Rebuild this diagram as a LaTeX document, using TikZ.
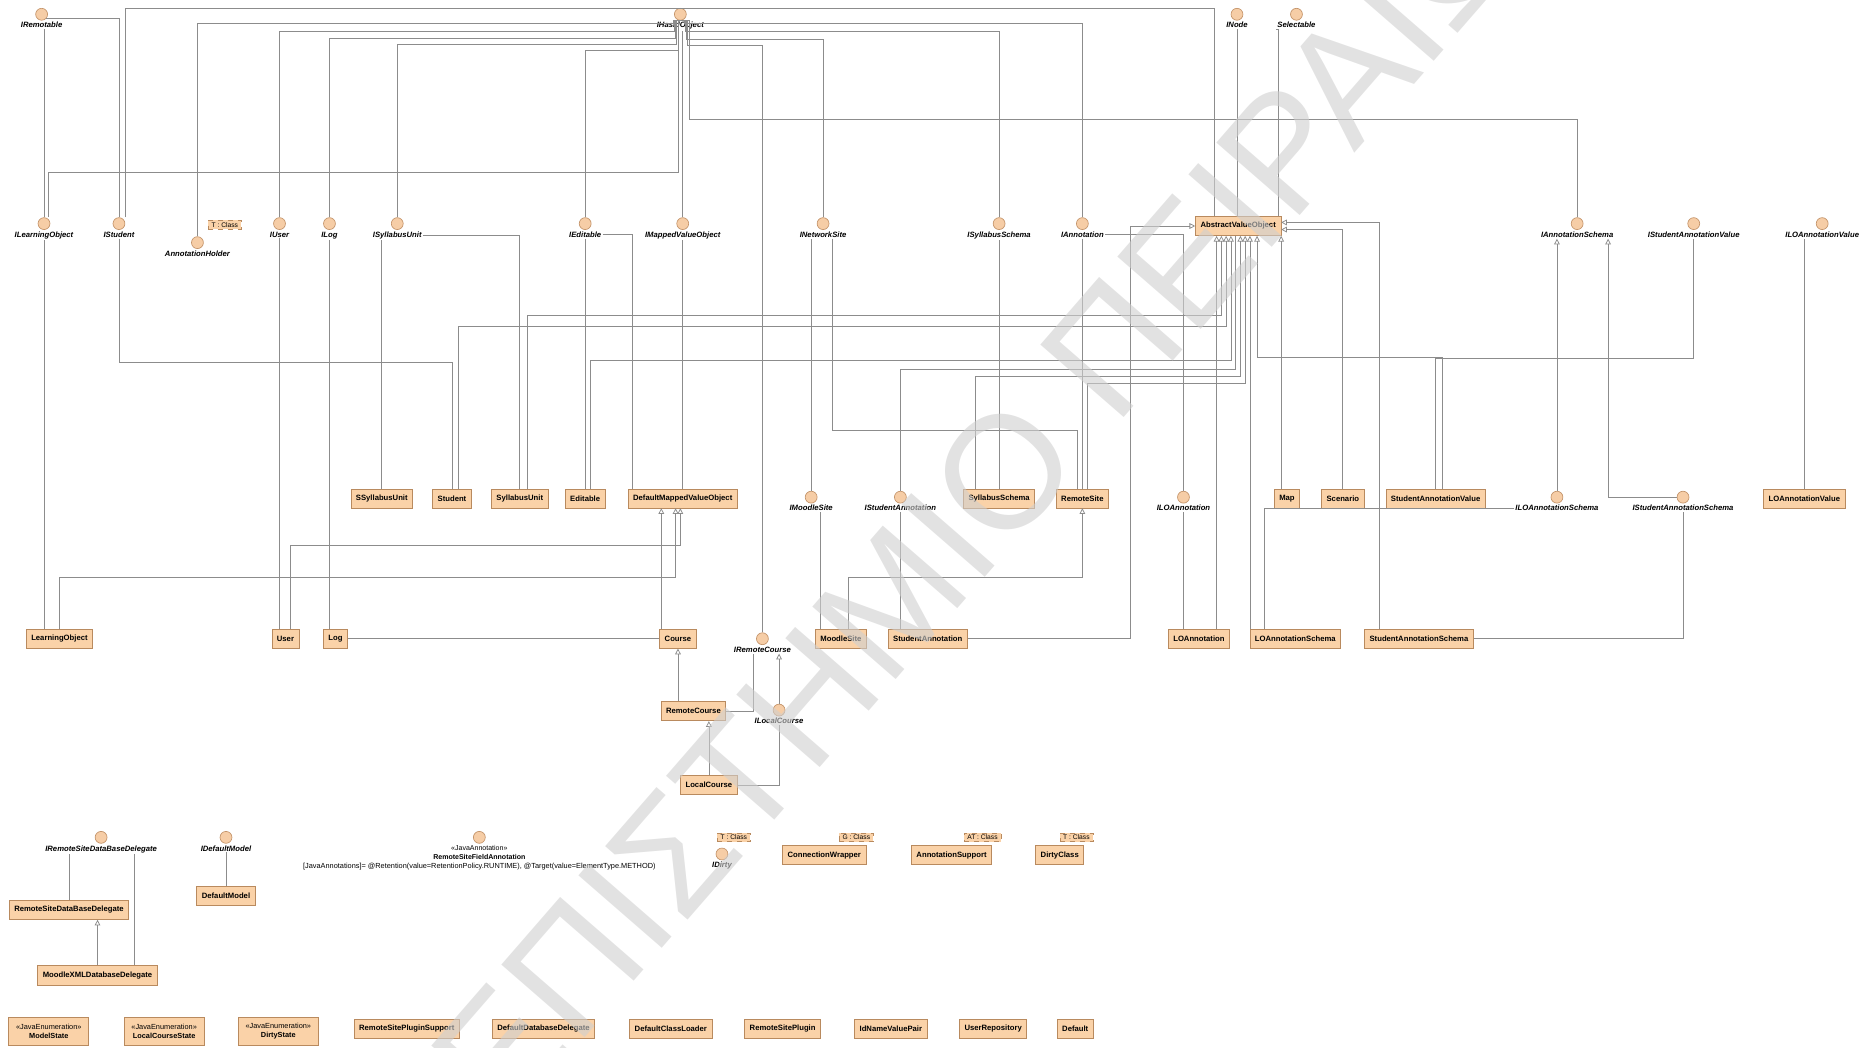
\documentclass[tikz,border=0pt]{standalone}
\usepackage{fontspec}
\setmainfont{Liberation Sans}
\usetikzlibrary{arrows.meta,positioning,calc}
\definecolor{clsfill}{HTML}{FAD2A8}
\definecolor{clsdraw}{HTML}{B98A5E}
\definecolor{ifcfill}{HTML}{F6CDA6}
\definecolor{ifcdraw}{HTML}{C4946A}
\definecolor{wire}{HTML}{8C8C8C}
\definecolor{wmark}{HTML}{CFCFCF}

\begin{document}
\begin{tikzpicture}[
  x=0.025cm, y=-0.025cm,
  cls/.style={draw=clsdraw, fill=clsfill, font=\fontsize{4.6}{5.4}\selectfont\bfseries,
              minimum height=0.4cm, inner xsep=3pt, inner ysep=1pt, align=center},
  enumbox/.style={draw=clsdraw, fill=clsfill, font=\fontsize{4.4}{5.6}\selectfont,
              minimum height=0.6cm, minimum width=1.68cm, inner sep=1pt, align=center},
  ifc/.style={circle, draw=ifcdraw, fill=ifcfill, minimum size=0.25cm, inner sep=0pt},
  ifl/.style={font=\fontsize{4.6}{5.4}\selectfont\bfseries\itshape, inner sep=0.6pt},
  tmpl/.style={draw=clsdraw, dashed, fill=clsfill, font=\fontsize{4}{4.8}\selectfont,
              inner xsep=2pt, inner ysep=1.2pt},
  conn/.style={draw=wire, line width=0.45pt},
  gen/.style={conn, -{Triangle[open, length=1.2mm, width=1.2mm]}}
]
\useasboundingbox (0,0) rectangle (1568,881);

% top interfaces
\node[ifc] (iremotable) at (35,12) {};
\node[ifl, below=0.3pt of iremotable] (iremotable-l) {IRemotable};
\node[ifc] (ihasid) at (572,12) {};
\node[ifl, below=0.3pt of ihasid] (ihasid-l) {IHasIdObject};
\node[ifc] (inode) at (1040,12) {};
\node[ifl, below=0.3pt of inode] (inode-l) {INode};
\node[ifc] (iselect) at (1090,12) {};
\node[ifl, below=0.3pt of iselect] (iselect-l) {Selectable};

% second row
\node[ifc] (ilo) at (37,188) {};
\node[ifl, below=0.3pt of ilo] (ilo-l) {ILearningObject};
\node[ifc] (istudent) at (100,188) {};
\node[ifl, below=0.3pt of istudent] (istudent-l) {IStudent};
\node[ifc] (iannholder) at (166,204) {};
\node[ifl, below=0.3pt of iannholder] (iannholder-l) {AnnotationHolder};
\node[ifc] (iuser) at (235,188) {};
\node[ifl, below=0.3pt of iuser] (iuser-l) {IUser};
\node[ifc] (ilog) at (277,188) {};
\node[ifl, below=0.3pt of ilog] (ilog-l) {ILog};
\node[ifc] (isylunit) at (334,188) {};
\node[ifl, below=0.3pt of isylunit] (isylunit-l) {ISyllabusUnit};
\node[ifc] (iedit) at (492,188) {};
\node[ifl, below=0.3pt of iedit] (iedit-l) {IEditable};
\node[ifc] (imapped) at (574,188) {};
\node[ifl, below=0.3pt of imapped] (imapped-l) {IMappedValueObject};
\node[ifc] (inetsite) at (692,188) {};
\node[ifl, below=0.3pt of inetsite] (inetsite-l) {INetworkSite};
\node[ifc] (isylschema) at (840,188) {};
\node[ifl, below=0.3pt of isylschema] (isylschema-l) {ISyllabusSchema};
\node[ifc] (iann) at (910,188) {};
\node[ifl, below=0.3pt of iann] (iann-l) {IAnnotation};
\node[cls] (avo) at (1041,190) {AbstractValueObject};
\node[ifc] (iannschema) at (1326,188) {};
\node[ifl, below=0.3pt of iannschema] (iannschema-l) {IAnnotationSchema};
\node[ifc] (istudannval) at (1424,188) {};
\node[ifl, below=0.3pt of istudannval] (istudannval-l) {IStudentAnnotationValue};
\node[ifc] (iloannval) at (1532,188) {};
\node[ifl, below=0.3pt of iloannval] (iloannval-l) {ILOAnnotationValue};

% third row
\node[cls] (ssylunit) at (321,419) {SSyllabusUnit};
\node[cls] (student) at (380,419) {Student};
\node[cls] (sylunit) at (437,419) {SyllabusUnit};
\node[cls] (editable) at (492,419) {Editable};
\node[cls] (dmvo) at (574,419) {DefaultMappedValueObject};
\node[ifc] (imoodle) at (682,418) {};
\node[ifl, below=0.3pt of imoodle] (imoodle-l) {IMoodleSite};
\node[ifc] (istudann) at (757,418) {};
\node[ifl, below=0.3pt of istudann] (istudann-l) {IStudentAnnotation};
\node[cls] (sylschema) at (840,419) {SyllabusSchema};
\node[cls] (remotesite) at (910,419) {RemoteSite};
\node[ifc] (iloann) at (995,418) {};
\node[ifl, below=0.3pt of iloann] (iloann-l) {ILOAnnotation};
\node[cls] (map) at (1082,419) {Map};
\node[cls] (scenario) at (1129,419) {Scenario};
\node[cls] (studannval) at (1207,419) {StudentAnnotationValue};
\node[ifc] (iloannschema) at (1309,418) {};
\node[ifl, below=0.3pt of iloannschema] (iloannschema-l) {ILOAnnotationSchema};
\node[ifc] (istudannschema) at (1415,418) {};
\node[ifl, below=0.3pt of istudannschema] (istudannschema-l) {IStudentAnnotationSchema};
\node[cls] (loannval) at (1517,419) {LOAnnotationValue};

% fourth row
\node[cls] (lo) at (50,537) {LearningObject};
\node[cls] (user) at (240,537) {User};
\node[cls] (log) at (282,537) {Log};
\node[cls] (course) at (570,537) {Course};
\node[ifc] (iremotecourse) at (641,537) {};
\node[ifl, below=0.3pt of iremotecourse] (iremotecourse-l) {IRemoteCourse};
\node[cls] (moodlesite) at (707,537) {MoodleSite};
\node[cls] (studann) at (780,537) {StudentAnnotation};
\node[cls] (loann) at (1008,537) {LOAnnotation};
\node[cls] (loannschema) at (1089,537) {LOAnnotationSchema};
\node[cls] (studannschema) at (1193,537) {StudentAnnotationSchema};

\node[cls] (remotecourse) at (583,598) {RemoteCourse};
\node[ifc] (ilocalcourse) at (655,597) {};
\node[ifl, below=0.3pt of ilocalcourse] (ilocalcourse-l) {ILocalCourse};
\node[cls] (localcourse) at (596,660) {LocalCourse};

% lower left block
\node[ifc] (irsdbd) at (85,704) {};
\node[ifl, below=0.3pt of irsdbd] (irsdbd-l) {IRemoteSiteDataBaseDelegate};
\node[ifc] (idefmodel) at (190,704) {};
\node[ifl, below=0.3pt of idefmodel] (idefmodel-l) {IDefaultModel};
\node[ifc] (rsfa) at (403,704) {};
\node[font=\fontsize{4.2}{5.4}\selectfont, inner sep=0.5pt, align=center, below=0.3pt of rsfa] (rsfa-l)
  {«JavaAnnotation»\\\textbf{RemoteSiteFieldAnnotation}};
\node[font=\fontsize{4.4}{5}\selectfont, inner sep=0.5pt, below=0.5pt of rsfa-l] (rsfa-a)
  {[JavaAnnotations]= @Retention(value=RetentionPolicy.RUNTIME), @Target(value=ElementType.METHOD)};
\node[ifc] (idirty) at (607,718) {};
\node[ifl, below=0.3pt of idirty] (idirty-l) {IDirty};
\node[cls] (connwrap) at (693,719) {ConnectionWrapper};
\node[cls] (annsupport) at (800,719) {AnnotationSupport};
\node[cls] (dirtyclass) at (891,719) {DirtyClass};

\node[cls] (rsdbd) at (58,765) {RemoteSiteDataBaseDelegate};
\node[cls] (defmodel) at (190,753) {DefaultModel};
\node[cls] (moodlexml) at (82,820) {MoodleXMLDatabaseDelegate};

% bottom row
\node[enumbox] (modelstate) at (41,867) {«JavaEnumeration»\\\textbf{ModelState}};
\node[enumbox] (lcstate) at (138,867) {«JavaEnumeration»\\\textbf{LocalCourseState}};
\node[enumbox] (dirtystate) at (234,867) {«JavaEnumeration»\\\textbf{DirtyState}};
\node[cls] (rspsupport) at (342,865) {RemoteSitePluginSupport};
\node[cls] (defdbdel) at (457,865) {DefaultDatabaseDelegate};
\node[cls] (defclassloader) at (564,865) {DefaultClassLoader};
\node[cls] (rsplugin) at (658,865) {RemoteSitePlugin};
\node[cls] (idnamevalue) at (749,865) {IdNameValuePair};
\node[cls] (userrepo) at (835,865) {UserRepository};
\node[cls] (default) at (904,865) {Default};

% template parameters
\node[tmpl] (annholder-t) at (189,189) {T : Class};
\node[tmpl] (idirty-t) at (617,704) {T : Class};
\node[tmpl] (connwrap-t) at (720,704) {G : Class};
\node[tmpl] (annsupport-t) at (826,704) {AT : Class};
\node[tmpl] (dirtyclass-t) at (905,704) {T : Class};

% anchor helpers
\coordinate (dmvo-s1) at ($(dmvo.south)+(-18,0)$);
\coordinate (dmvo-s2) at ($(dmvo.south)+(-6,0)$);
\coordinate (dmvo-s3) at ($(dmvo.south)+(-2,0)$);
\coordinate (user-up) at ($(user.north)+(4,0)$);
\coordinate (avo-p1) at ($(avo.south west)+(18,0)$);
\coordinate (avo-p2) at ($(avo.south west)+(22,0)$);
\coordinate (avo-p3) at ($(avo.south west)+(26,0)$);
\coordinate (avo-p4) at ($(avo.south west)+(30,0)$);
\coordinate (avo-p5) at ($(avo.south west)+(34,0)$);
\coordinate (avo-p6) at ($(avo.south west)+(38,0)$);
\coordinate (avo-p7) at ($(avo.south west)+(42,0)$);
\coordinate (avo-p8) at ($(avo.south west)+(46,0)$);
\coordinate (avo-p9) at ($(avo.south west)+(52,0)$);
\coordinate (avo-top) at ($(avo.north west)+(16,0)$);
\coordinate (avo-sel) at ($(avo.north east)+(-2,0)$);
\coordinate (imoodle-d) at ($(imoodle-l.south)+(8,0)$);
\coordinate (mx-up) at ($(moodlexml.north)+(31,0)$);

% links to the top interfaces
\draw[conn] (istudent.north) |- (iremotable.south east);
\draw[conn] (ilo.north) -- (ilo.north |- iremotable-l.south);
\draw[conn] ($(istudent.north)+(5,0)$) |- (ihasid.north);
\draw[conn] (avo-top) |- (ihasid.north);
\draw[conn] ($(ilo.north)+(4,0)$) |- (570,145) |- (ihasid.south);
\draw[conn] (iannholder.north) |- (566,20) |- (ihasid.south);
\draw[conn] (iuser.north) |- (567,26) |- (ihasid.south);
\draw[conn] (ilog.north) |- (568,32) |- (ihasid.south);
\draw[conn] (isylunit.north) |- (569,37) |- (ihasid.south);
\draw[conn] (iedit.north) |- (570,42) |- (ihasid.south);
\draw[conn] (imapped.north) -- (imapped.north |- ihasid-l.south);
\draw[conn] (iann.north) |- (575,20) |- (ihasid.south);
\draw[conn] (isylschema.north) |- (576,26) |- (ihasid.south);
\draw[conn] (inetsite.north) |- (577,33) |- (ihasid.south);
\draw[conn] (iremotecourse.north) |- (578,38) |- (ihasid.south);
\draw[conn] (iannschema.north) |- (580,100) |- (ihasid.south);
\draw[conn] (avo.north -| inode) -- (inode-l.south);
\draw[conn] (avo-sel) |- (iselect-l.south west);

% left part
\draw[conn] (ilo-l.south) -- (ilo-l.south |- lo.north);
\draw[gen] (lo.north) |- ($(dmvo-s2)+(0,58)$) -- (dmvo-s2);
\draw[conn] (istudent-l.south) |- ($(student.north)+(0,-106)$) -- (student.north);
\draw[conn] (iuser-l.south) -- (iuser-l.south |- user.north);
\draw[gen] (user-up) |- ($(dmvo-s3)+(0,31)$) -- (dmvo-s3);
\draw[conn] (ilog-l.south) -- (ilog-l.south |- log.north);
\draw[conn] (log.east) -- (course.west);
\draw[gen] (course.north -| dmvo-s1) -- (dmvo-s1);
\draw[conn] (ssylunit.north) -- (ssylunit.north |- isylunit-l.south);
\draw[conn] (isylunit-l.east) -| (sylunit.north);
\draw[conn] (iedit-l.south) -- (iedit-l.south |- editable.north);
\draw[conn] (iedit-l.east) -| ($(dmvo.north west)+(4,0)$);
\draw[conn] (imapped-l.south) -- (imapped-l.south |- dmvo.north);

% middle part
\draw[conn] (imoodle.north) -- (imoodle.north |- inetsite-l.south);
\draw[conn] ($(inetsite-l.south)+(8,0)$) |- ($(remotesite.north)+(-4,-49)$) -- ($(remotesite.north)+(-4,0)$);
\draw[conn] (isylschema-l.south) -- (isylschema-l.south |- sylschema.north);
\draw[conn] (iann-l.south) -- (iann-l.south |- remotesite.north);
\draw[conn] (iann-l.east) -| (iloann.north);
\draw[conn] (imoodle-d) -- (imoodle-d |- moodlesite.north);
\draw[gen] ($(moodlesite.north)+(6,0)$) |- ($(remotesite.south)+(0,58)$) -- (remotesite.south);
\draw[conn] (istudann-l.south) -- (istudann-l.south |- studann.north);
\draw[gen] (studann.east) -| (950,190) -- (avo.west);
\draw[gen] (remotecourse.north -| course.south) -- (course.south);
\draw[conn] (remotecourse.east) -| ($(iremotecourse-l.south)+(-8,0)$);
\draw[gen] (localcourse.north) -- (localcourse.north |- remotecourse.south);
\draw[conn] (localcourse.east) -| (ilocalcourse-l.south);
\draw[gen] (ilocalcourse.north) -- (ilocalcourse.north |- iremotecourse-l.south);

% abstract value object fan-out
\draw[gen] (avo-p1 |- loann.north) -- (avo-p1);
\draw[gen] ($(sylunit.north)+(6,0)$) |- ($(avo-p2)+(0,67)$) -- (avo-p2);
\draw[gen] ($(student.north)+(5,0)$) |- ($(avo-p3)+(0,76)$) -- (avo-p3);
\draw[gen] ($(editable.north)+(4,0)$) |- ($(avo-p4)+(0,105)$) -- (avo-p4);
\draw[conn] (istudann.north) |- ($(avo-p5)+(0,112)$) -- (avo-p5);
\draw[gen] ($(sylschema.north)+(-20,0)$) |- ($(avo-p6)+(0,118)$) -- (avo-p6);
\draw[gen] ($(remotesite.north)+(4,0)$) |- ($(avo-p7)+(0,124)$) -- (avo-p7);
\draw[gen] (avo-p8 |- loannschema.north) -- (avo-p8);
\draw[gen] ($(studannval.north)+(6,0)$) |- ($(avo-p9)+(0,102)$) -- (avo-p9);
\draw[gen] (map.north -| avo.south east) -- (avo.south east);
\draw[gen] (scenario.north) |- ($(avo.east)+(0,3)$);
\draw[gen] ($(studannschema.north)+(-33,0)$) |- ($(avo.east)+(0,-3)$);

% right part
\draw[conn] (iloann-l.south) -- (iloann-l.south |- loann.north);
\draw[conn] (iloannschema-l.west) -| ($(loannschema.north)+(-26,0)$);
\draw[conn] (studannschema.east) -| (istudannschema-l.south);
\draw[gen] (iloannschema.north) -- (iloannschema.north |- iannschema-l.south);
\draw[gen] (istudannschema.west) -| ($(iannschema-l.south)+(26,0)$);
\draw[conn] (istudannval-l.south) |- ($(studannval.north)+(0,-109)$) -- (studannval.north);
\draw[conn] (loannval.north) -- (loannval.north |- iloannval-l.south);

% lower left
\draw[conn] (rsdbd.north) -- (rsdbd.north |- irsdbd-l.south);
\draw[conn] (mx-up) -- (mx-up |- irsdbd-l.south);
\draw[gen] (moodlexml.north) -- (moodlexml.north |- rsdbd.south);
\draw[conn] (idefmodel-l.south) -- (defmodel.north);

% watermark over the diagram
\begin{scope}
\clip (0,0) rectangle (1568,881);
\node[rotate=49, text=wmark, text opacity=0.6, font=\fontsize{96}{96}\selectfont] (watermark)
  at (756,498) {ΠΑΝΕΠΙΣΤΗΜΙΟ ΠΕΙΡΑΙΩΣ};
\end{scope}
\end{tikzpicture}
\end{document}
